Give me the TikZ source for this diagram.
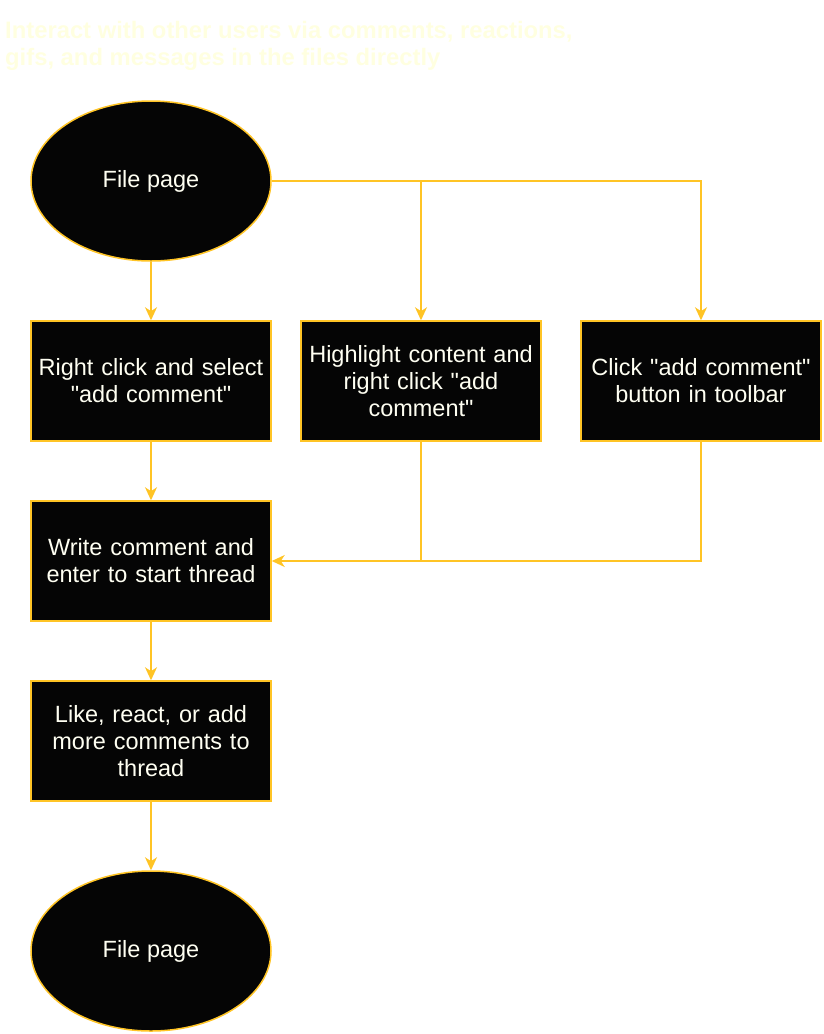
\documentclass[tikz,border=0pt]{standalone}
\usepackage{fontspec}
\setmainfont{Liberation Sans}[Ligatures=TeXOff]
\usetikzlibrary{arrows.meta,shapes.geometric}
\definecolor{gold}{HTML}{FFC425}
\definecolor{boxfill}{HTML}{050505}
\definecolor{txt}{HTML}{FFFFF2}
\definecolor{titlecol}{HTML}{FFFFE0}
\tikzset{
  stepbox/.style={draw=gold, line width=1.5pt, fill=boxfill, minimum width=240pt, minimum height=120pt, text width=236pt, align=center, text=txt, font=\fontsize{23.5}{27}\selectfont, inner sep=0pt},
  terminal/.style={ellipse, draw=gold, line width=1.5pt, fill=boxfill, minimum width=240pt, minimum height=160pt, text=txt, font=\fontsize{23.5}{27}\selectfont, inner sep=0pt},
  link/.style={draw=gold, line width=1.5pt, -{Stealth[length=13pt,width=12pt,inset=4pt]}},
  plain/.style={draw=gold, line width=1.5pt}
}
\begin{document}
\begin{tikzpicture}[x=1pt,y=-1pt]
\useasboundingbox (0,0) rectangle (824,1034);
\node[anchor=base west, text=titlecol, font=\bfseries\fontsize{23.8}{27}\selectfont, align=left, inner sep=0pt] (title) at (5,65) {Interact with other users via comments, reactions,\\gifs, and messages in the files directly};
\node[terminal] (start) at (151,181) {File page};
\node[stepbox] (a) at (151,381) {Right click and select\\"add comment"};
\node[stepbox] (b) at (421,381) {Highlight content and\\right click "add\\comment"};
\node[stepbox] (c) at (701,381) {Click "add comment"\\button in toolbar};
\node[stepbox] (d) at (151,561) {Write comment and\\enter to start thread};
\node[stepbox] (e) at (151,741) {Like, react, or add\\more comments to\\thread};
\node[terminal] (end) at (151,951) {File page};
\coordinate (jb) at (421,561);
\draw[link] (start) -- (a);
\draw[link] (start.east) -| (b.north);
\draw[link] (start.east) -| (c.north);
\draw[link] (a) -- (d);
\draw[link] (b.south) |- (d.east);
\draw[plain] (c.south) |- (jb);
\draw[link] (d) -- (e);
\draw[link] (e) -- (end);
\end{tikzpicture}
\end{document}
